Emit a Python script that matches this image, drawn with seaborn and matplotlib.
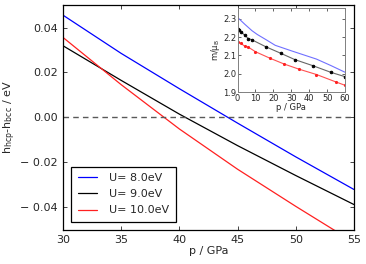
import numpy as np
import pandas as pd
import seaborn as sns
import matplotlib
matplotlib.use("Agg")
import matplotlib.pyplot as plt
from matplotlib.ticker import FuncFormatter

# main panel: enthalpy difference vs pressure
p_main = [30, 35, 40, 45, 50, 55]
h_u8 = [0.0455, 0.0285, 0.0128, -0.0025, -0.0175, -0.0320]
h_u9 = [0.0319, 0.0165, 0.0015, -0.0125, -0.0258, -0.0387]
h_u10 = [0.0356, 0.0146, -0.0051, -0.0230, -0.0395, -0.0555]
labels = ["U= 8.0eV", "U= 9.0eV", "U= 10.0eV"]

# inset: magnetic moment vs pressure
p_in_u8 = [0, 4, 8, 11, 16, 21, 30, 44, 52, 60]
m_u8 = [2.307, 2.270, 2.235, 2.214, 2.185, 2.155, 2.125, 2.080, 2.045, 2.008]
p_in_u9 = [0, 1, 2, 4, 6, 8, 16, 24, 32, 42, 52, 60]
m_u9 = [2.245, 2.240, 2.228, 2.210, 2.192, 2.185, 2.146, 2.112, 2.077, 2.044, 2.008, 1.984]
p_in_u10 = [0, 2, 4, 6, 10, 18, 26, 34, 44, 55, 60]
m_u10 = [2.175, 2.165, 2.150, 2.145, 2.120, 2.085, 2.053, 2.026, 1.996, 1.955, 1.937]

sns.set_style("ticks", {"xtick.direction": "in", "ytick.direction": "in"})
plt.rcParams['font.family'] = ['DejaVu Sans']
plt.rcParams['mathtext.default'] = 'regular'

df = pd.DataFrame({
    'p': p_main * 3,
    'h': h_u8 + h_u9 + h_u10,
    'U': [labels[0]] * 6 + [labels[1]] * 6 + [labels[2]] * 6,
})

fig = plt.figure(figsize=(3.66, 2.64), dpi=100)
ax = fig.add_axes([0.172, 0.129, 0.795, 0.852])
sns.lineplot(data=df, x='p', y='h', hue='U', palette=['#0000ff', 'black', '#ff2020'],
             linewidth=0.9, ax=ax, legend=True)
ax.axhline(0, color='0.35', ls='--', lw=1, dashes=(4, 3))
ax.set_xlim(30, 55)
ax.set_ylim(-0.05, 0.05)
ax.set_xticks([30, 35, 40, 45, 50, 55])
ax.set_yticks([-0.04, -0.02, 0.0, 0.02, 0.04])
ax.yaxis.set_major_formatter(FuncFormatter(
    lambda v, pos: ("\u2212 %.2f" % abs(v)) if v < -1e-9 else "%.2f" % v))
ax.tick_params(labelsize=8, top=True, right=True, length=3, width=0.6)
for s in ax.spines.values():
    s.set_linewidth(0.9)
    s.set_color('black')
ax.set_xlabel("p / GPa", fontsize=8, labelpad=1)
ax.set_ylabel(r"h$_{\rm hcp}$-h$_{\rm bcc}$ / eV", fontsize=8, labelpad=2)
leg = ax.legend(loc='lower left', fontsize=8, fancybox=False, edgecolor='black',
                framealpha=1, handlelength=1.7, handletextpad=1.1,
                borderpad=0.6, labelspacing=0.55, bbox_to_anchor=(0.01, 0.01))
leg.get_frame().set_linewidth(0.9)

# inset
ins = fig.add_axes([0.649, 0.651, 0.294, 0.320])
sns.lineplot(x=p_in_u8, y=m_u8, color='#7070ff', linewidth=0.8, ax=ins)
sns.lineplot(x=p_in_u9, y=m_u9, color='0.4', linewidth=0.8, marker='o',
             markersize=1.8, markerfacecolor='black', markeredgecolor='black', ax=ins)
sns.lineplot(x=p_in_u10, y=m_u10, color='#ff5050', linewidth=0.8, marker='o',
             markersize=1.5, markerfacecolor='#ff2020', markeredgecolor='#ff2020', ax=ins)
ins.set_xlim(0, 60)
ins.set_ylim(1.9, 2.36)
ins.set_xticks([0, 10, 20, 30, 40, 50, 60])
ins.set_yticks([1.9, 2.0, 2.1, 2.2, 2.3])
ins.tick_params(labelsize=6, top=True, right=True, length=2, width=0.5, pad=1)
for s in ins.spines.values():
    s.set_linewidth(0.7)
    s.set_color('0.5')
ins.set_xlabel("p / GPa", fontsize=6, labelpad=0)
ins.set_ylabel(r"m/$\mu_{\rm B}$", fontsize=6, labelpad=1)

fig.savefig("out.png", dpi=100)
